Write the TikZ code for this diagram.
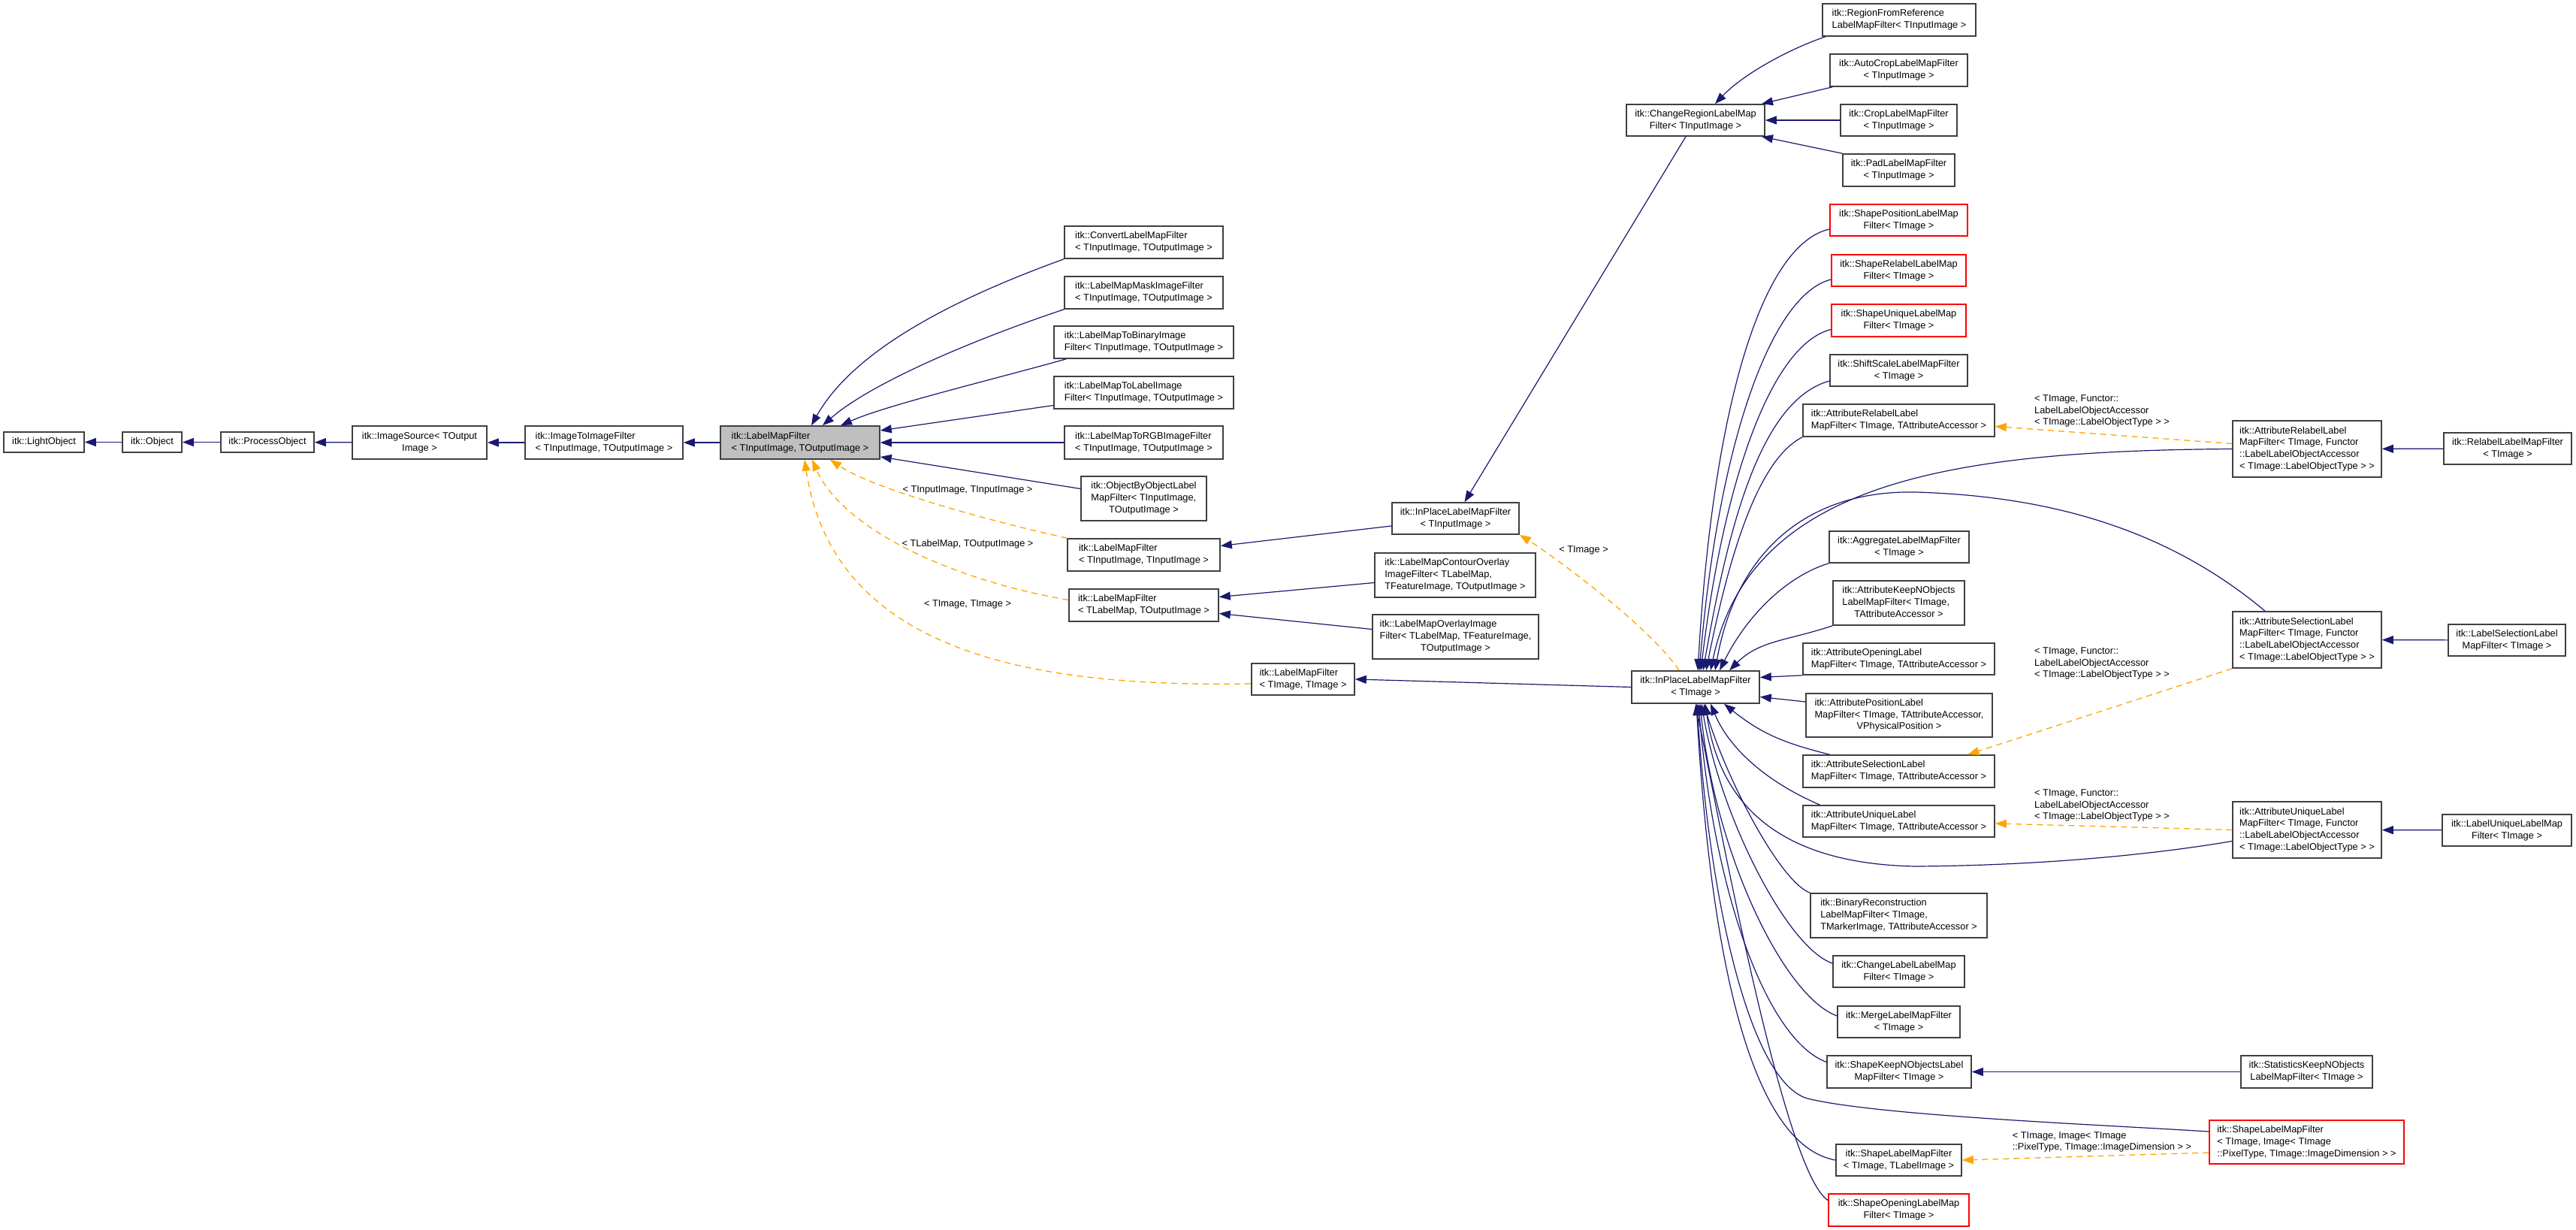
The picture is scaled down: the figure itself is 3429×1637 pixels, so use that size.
\documentclass[tikz,border=0pt]{standalone}
\usepackage{fontspec}
\setmainfont{Liberation Sans}
\usepackage{xcolor}
\usepackage{tikz}
\usetikzlibrary{arrows.meta}
\definecolor{cNavy}{HTML}{191970}
\definecolor{cOrange}{HTML}{FFA500}
\definecolor{cFrame}{HTML}{404040}
\definecolor{cRed}{HTML}{FF0000}
\definecolor{cGrey}{HTML}{BFBFBF}
\tikzset{
  cls/.style 2 args={draw=cFrame,fill=white,line width=1.6pt,inner sep=1pt,minimum width=#1pt,minimum height=#2pt,
    font={\fontsize{12.8}{15.7}\selectfont}},
  clsred/.style={draw=cRed},
  inh/.style={draw=cNavy,line width=1.2pt,-{Triangle[length=15pt,width=11pt]}},
  tpl/.style={draw=cOrange,line width=1.3pt,dash pattern=on 8pt off 6pt,-{Triangle[length=15pt,width=11pt]}},
  lbl/.style={inner sep=0pt,align=left,font={\fontsize{12.8}{15.7}\selectfont}},
}

\begin{document}
\begin{tikzpicture}[x=1pt,y=-1pt]
  \path[fill=white] (0,0) rectangle (3429,1637);
  \useasboundingbox (0,0) rectangle (3429,1637);
  % base chain
  \node[cls={107}{27}] (light) at (58.5,588.5) {itk::LightObject};
  \node[cls={79}{27}] (object) at (202.5,588.5) {itk::Object};
  \node[cls={124}{27}] (process) at (356,588.5) {itk::ProcessObject};
  \node[cls={179}{44},align=center] (imgsrc) at (558.5,589) {itk::ImageSource< TOutput\\Image >};
  \node[cls={210}{44},align=left] (img2img) at (804,589) {itk::ImageToImageFilter\\< TInputImage, TOutputImage >};
  \node[cls={212}{44},align=left,fill=cGrey] (lmf) at (1065,589) {itk::LabelMapFilter\\< TInputImage, TOutputImage >};

  \node[cls={211}{43},align=left] (convert) at (1522.5,322.5) {itk::ConvertLabelMapFilter\\< TInputImage, TOutputImage >};
  \node[cls={211}{43},align=left] (mask) at (1522.5,389.5) {itk::LabelMapMaskImageFilter\\< TInputImage, TOutputImage >};
  \node[cls={239}{43},align=left] (tobin) at (1522.5,455.5) {itk::LabelMapToBinaryImage\\Filter< TInputImage, TOutputImage >};
  \node[cls={239}{43},align=left] (tolab) at (1522.5,522.5) {itk::LabelMapToLabelImage\\Filter< TInputImage, TOutputImage >};
  \node[cls={211}{44},align=left] (torgb) at (1522.5,589) {itk::LabelMapToRGBImageFilter\\< TInputImage, TOutputImage >};
  \node[cls={167}{59}] (objbyobj) at (1522.5,663.5) {\begin{tabular}{@{}l@{}}itk::ObjectByObjectLabel\\MapFilter< TInputImage,\\\multicolumn{1}{@{}c@{}}{TOutputImage >}\end{tabular}};
  \node[cls={203}{43},align=left] (lmfII) at (1522.5,738.5) {itk::LabelMapFilter\\< TInputImage, TInputImage >};
  \node[cls={199}{43},align=left] (lmfLO) at (1522.5,805.5) {itk::LabelMapFilter\\< TLabelMap, TOutputImage >};
  \node[cls={137}{42},align=left] (lmfTT) at (1734.5,904) {itk::LabelMapFilter\\< TImage, TImage >};

  \node[cls={214}{59}] (contour) at (1937,765.5) {\begin{tabular}{@{}l@{}}itk::LabelMapContourOverlay\\ImageFilter< TLabelMap,\\\multicolumn{1}{@{}c@{}}{TFeatureImage, TOutputImage >}\end{tabular}};
  \node[cls={221}{59}] (overlay) at (1937.5,847.5) {\begin{tabular}{@{}l@{}}itk::LabelMapOverlayImage\\Filter< TLabelMap, TFeatureImage,\\\multicolumn{1}{@{}c@{}}{TOutputImage >}\end{tabular}};
  \node[cls={169}{42},align=center] (inplaceIn) at (1937.5,690) {itk::InPlaceLabelMapFilter\\< TInputImage >};
  \node[cls={170}{43},align=center] (inplace) at (2257,914.5) {itk::InPlaceLabelMapFilter\\< TImage >};
  \node[cls={184}{42},align=center] (chgregion) at (2257,160) {itk::ChangeRegionLabelMap\\Filter< TInputImage >};

  \node[cls={204}{43},align=left] (regionref) at (2528,26.5) {itk::RegionFromReference\\LabelMapFilter< TInputImage >};
  \node[cls={183}{43},align=center] (autocrop) at (2527.5,93.5) {itk::AutoCropLabelMapFilter\\< TInputImage >};
  \node[cls={155}{42},align=center] (crop) at (2527.5,160) {itk::CropLabelMapFilter\\< TInputImage >};
  \node[cls={149}{43},align=center] (pad) at (2527.5,226.5) {itk::PadLabelMapFilter\\< TInputImage >};
  \node[cls={183}{42},clsred,align=center] (shapepos) at (2527.5,293) {itk::ShapePositionLabelMap\\Filter< TImage >};
  \node[cls={179}{42},clsred,align=center] (shaperel) at (2527.5,360) {itk::ShapeRelabelLabelMap\\Filter< TImage >};
  \node[cls={179}{43},clsred,align=center] (shapeuniq) at (2527.5,426.5) {itk::ShapeUniqueLabelMap\\Filter< TImage >};
  \node[cls={183}{42},align=center] (shiftscale) at (2527.5,493) {itk::ShiftScaleLabelMapFilter\\< TImage >};
  \node[cls={255}{43},align=left] (attrrelabel) at (2527.5,559.5) {itk::AttributeRelabelLabel\\MapFilter< TImage, TAttributeAccessor >};
  \node[cls={186}{42},align=center] (aggregate) at (2528,728) {itk::AggregateLabelMapFilter\\< TImage >};
  \node[cls={175}{59}] (attrkeep) at (2527.5,802.5) {\begin{tabular}{@{}l@{}}itk::AttributeKeepNObjects\\LabelMapFilter< TImage,\\\multicolumn{1}{@{}c@{}}{TAttributeAccessor >}\end{tabular}};
  \node[cls={255}{42},align=left] (attropen) at (2527.5,877) {itk::AttributeOpeningLabel\\MapFilter< TImage, TAttributeAccessor >};
  \node[cls={248}{58}] (attrpos) at (2528,952) {\begin{tabular}{@{}l@{}}itk::AttributePositionLabel\\MapFilter< TImage, TAttributeAccessor,\\\multicolumn{1}{@{}c@{}}{VPhysicalPosition >}\end{tabular}};
  \node[cls={255}{43},align=left] (attrsel) at (2527.5,1026.5) {itk::AttributeSelectionLabel\\MapFilter< TImage, TAttributeAccessor >};
  \node[cls={255}{42},align=left] (attruniq) at (2527.5,1093) {itk::AttributeUniqueLabel\\MapFilter< TImage, TAttributeAccessor >};
  \node[cls={235}{59}] (binrecon) at (2527.5,1218.5) {\begin{tabular}{@{}l@{}}itk::BinaryReconstruction\\LabelMapFilter< TImage,\\\multicolumn{1}{@{}c@{}}{TMarkerImage, TAttributeAccessor >}\end{tabular}};
  \node[cls={175}{42},align=center] (chglabel) at (2527.5,1293) {itk::ChangeLabelLabelMap\\Filter< TImage >};
  \node[cls={163}{42},align=center] (merge) at (2527.5,1360) {itk::MergeLabelMapFilter\\< TImage >};
  \node[cls={192}{43},align=center] (shapekeep) at (2528,1426.5) {itk::ShapeKeepNObjectsLabel\\MapFilter< TImage >};
  \node[cls={167}{42},align=center] (shapelabel) at (2527.5,1544) {itk::ShapeLabelMapFilter\\< TImage, TLabelImage >};
  \node[cls={187}{43},clsred,align=center] (shapeopen) at (2527.5,1610.5) {itk::ShapeOpeningLabelMap\\Filter< TImage >};

  \node[cls={198}{75},align=left] (attrrelabelF) at (3071,597.5) {itk::AttributeRelabelLabel\\MapFilter< TImage, Functor\\::LabelLabelObjectAccessor\\< TImage::LabelObjectType > >};
  \node[cls={170}{42},align=center] (relabel) at (3338,597) {itk::RelabelLabelMapFilter\\< TImage >};
  \node[cls={198}{75},align=left] (attrselF) at (3071,851.5) {itk::AttributeSelectionLabel\\MapFilter< TImage, Functor\\::LabelLabelObjectAccessor\\< TImage::LabelObjectType > >};
  \node[cls={156}{42},align=center] (labelsel) at (3337,852) {itk::LabelSelectionLabel\\MapFilter< TImage >};
  \node[cls={198}{75},align=left] (attruniqF) at (3071,1104.5) {itk::AttributeUniqueLabel\\MapFilter< TImage, Functor\\::LabelLabelObjectAccessor\\< TImage::LabelObjectType > >};
  \node[cls={172}{42},align=center] (labeluniq) at (3337,1105) {itk::LabelUniqueLabelMap\\Filter< TImage >};
  \node[cls={175}{43},align=center] (statkeep) at (3070.5,1426.5) {itk::StatisticsKeepNObjects\\LabelMapFilter< TImage >};
  \node[cls={259}{58},clsred,align=left] (shapelabelF) at (3070.5,1520) {itk::ShapeLabelMapFilter\\< TImage, Image< TImage\\::PixelType, TImage::ImageDimension > >};

  \node[lbl] (lblII) at (1288,652) {< TInputImage, TInputImage >};
  \node[lbl] (lblLO) at (1288,724) {< TLabelMap, TOutputImage >};
  \node[lbl] (lblTT) at (1288,804) {< TImage, TImage >};
  \node[lbl] (lblIn) at (2108,732) {< TImage >};
  \node[lbl] (lblRel) at (2798,547) {< TImage, Functor::\\LabelLabelObjectAccessor\\< TImage::LabelObjectType > >};
  \node[lbl] (lblSel) at (2798,883) {< TImage, Functor::\\LabelLabelObjectAccessor\\< TImage::LabelObjectType > >};
  \node[lbl] (lblUniq) at (2798,1072) {< TImage, Functor::\\LabelLabelObjectAccessor\\< TImage::LabelObjectType > >};
  \node[lbl] (lblShape) at (2798,1520) {< TImage, Image< TImage\\::PixelType, TImage::ImageDimension > >};

  \foreach \c/\p in {object/light,process/object,imgsrc/process,img2img/imgsrc,lmf/img2img,torgb/lmf,crop/chgregion,relabel/attrrelabelF,labelsel/attrselF,labeluniq/attruniqF,statkeep/shapekeep}
    \draw[inh] (\c) -- (\p);

  \draw[inh] (convert.south west) .. controls +(-127,46) and +(60,-107) .. ([xshift=15pt]lmf.north);
  \draw[inh] (mask.south west) .. controls +(-117,39) and +(65,-57) .. ([xshift=30pt]lmf.north);
  \draw[inh] ([xshift=17pt]tobin.south west) .. controls +(-100,28) and +(61,-27) .. ([xshift=54pt]lmf.north);
  \draw[inh] ([yshift=-17pt]tolab.west) -- ([yshift=16pt]lmf.east);
  \draw[inh] ([yshift=13pt]objbyobj.west) -- ([yshift=-19pt]lmf.east);
  \draw[tpl] (lmfII.north west) .. controls +(-121,-27) and +(55,37) .. ([xshift=40pt]lmf.south);
  \draw[tpl] ([yshift=7pt]lmfLO.west) .. controls +(-163,-28) and +(39,89) .. ([xshift=16pt]lmf.south);
  \draw[tpl] ([yshift=-6pt]lmfTT.west) .. controls +(-287,5) and +(39,259) .. ([xshift=6pt]lmf.south);

  \draw[inh] ([yshift=-10pt]inplaceIn.west) -- ([yshift=12pt]lmfII.east);
  \draw[inh] ([yshift=-10pt]contour.west) -- ([yshift=11pt]lmfLO.east);
  \draw[inh] ([yshift=10pt]overlay.west) -- ([yshift=-11pt]lmfLO.east);
  \draw[inh] (inplace.west) -- (lmfTT.east);
  \draw[inh] ([xshift=-13pt]chgregion.south) -- ([xshift=12pt]inplaceIn.north);
  \draw[tpl] ([xshift=-22pt]inplace.north) .. controls +(-40,-60) and +(40,25) .. (inplaceIn.south east);

  \draw[inh] ([xshift=-98pt]regionref.south) .. controls +(-50,17) and +(37,-39) .. ([xshift=26pt]chgregion.north);
  \draw[inh] ([xshift=4pt]autocrop.south west) -- ([xshift=88pt]chgregion.north);
  \draw[inh] (pad.north west) -- ([xshift=88pt]chgregion.south);

  \draw[inh] ([yshift=-12pt]shapepos.west) .. controls +(-90,20) and +(20,-350) .. ([xshift=3pt]inplace.north);
  \draw[inh] ([yshift=-12pt]shaperel.west) .. controls +(-80,20) and +(25,-300) .. ([xshift=5pt]inplace.north);
  \draw[inh] ([yshift=-12pt]shapeuniq.west) .. controls +(-80,20) and +(30,-250) .. ([xshift=7pt]inplace.north);
  \draw[inh] ([yshift=-14pt]shiftscale.west) .. controls +(-90,25) and +(35,-200) .. ([xshift=10pt]inplace.north);
  \draw[inh] (attrrelabel.south west) .. controls +(-60,30) and +(30,-150) .. ([xshift=14pt]inplace.north);
  \draw[inh] (attrrelabelF.west) .. controls (2600,600) and (2330,640) .. ([xshift=20pt]inplace.north);
  \draw[inh] ([xshift=-56pt]attrselF.north) .. controls (2880,700) and (2720,660) .. (2550,655)
    .. controls (2400,652) and (2310,740) .. ([xshift=26pt]inplace.north);
  \draw[inh] (aggregate.south west) .. controls +(-50,15) and +(40,-80) .. ([xshift=32pt]inplace.north);
  \draw[inh] (attrkeep.south west) .. controls +(-60,20) and +(40,-40) .. ([xshift=45pt]inplace.north);
  \draw[inh] (attropen.south west) -- ([yshift=13pt]inplace.east);
  \draw[inh] ([yshift=18pt]attrpos.west) -- ([yshift=-13pt]inplace.east);
  \draw[inh] ([xshift=-92pt]attrsel.north) .. controls +(-60,-15) and +(50,40) .. ([xshift=38pt]inplace.south);
  \draw[inh] ([xshift=-105pt]attruniq.north) .. controls +(-70,-30) and +(25,60) .. ([xshift=20pt]inplace.south);
  \draw[inh] ([yshift=-15pt]attruniqF.west) .. controls (2850,1140) and (2700,1152) .. (2550,1153)
    .. controls (2380,1150) and (2290,1080) .. ([xshift=13pt]inplace.south);
  \draw[inh] (binrecon.north west) .. controls +(-40,-15) and +(30,100) .. ([xshift=11pt]inplace.south);
  \draw[inh] ([yshift=11pt]chglabel.west) .. controls +(-60,-20) and +(25,150) .. ([xshift=8pt]inplace.south);
  \draw[inh] ([yshift=8pt]merge.west) .. controls +(-70,-25) and +(20,200) .. ([xshift=6pt]inplace.south);
  \draw[inh] ([yshift=13pt]shapekeep.west) .. controls +(-80,-30) and +(20,250) .. ([xshift=4pt]inplace.south);
  \draw[inh] ([yshift=14pt]shapelabelF.west) .. controls (2800,1497) and (2500,1485) .. (2406,1462)
    .. controls (2330,1440) and (2275,1200) .. ([xshift=2pt]inplace.south);
  \draw[inh] (shapelabel.west) .. controls +(-110,-20) and +(20,350) .. ([xshift=1pt]inplace.south);
  \draw[inh] ([yshift=13pt]shapeopen.west) .. controls (2375,1560) and (2290,1100) .. (inplace.south);

  \draw[tpl] ([yshift=7pt]attrrelabelF.west) -- ([yshift=-8pt]attrrelabel.east);
  \draw[tpl] (attrselF.south west) -- ([xshift=92pt]attrsel.north);
  \draw[tpl] (attruniqF.west) -- ([yshift=-3pt]attruniq.east);
  \draw[tpl] ([yshift=-14pt]shapelabelF.west) -- (shapelabel.east);
\end{tikzpicture}
\end{document}
